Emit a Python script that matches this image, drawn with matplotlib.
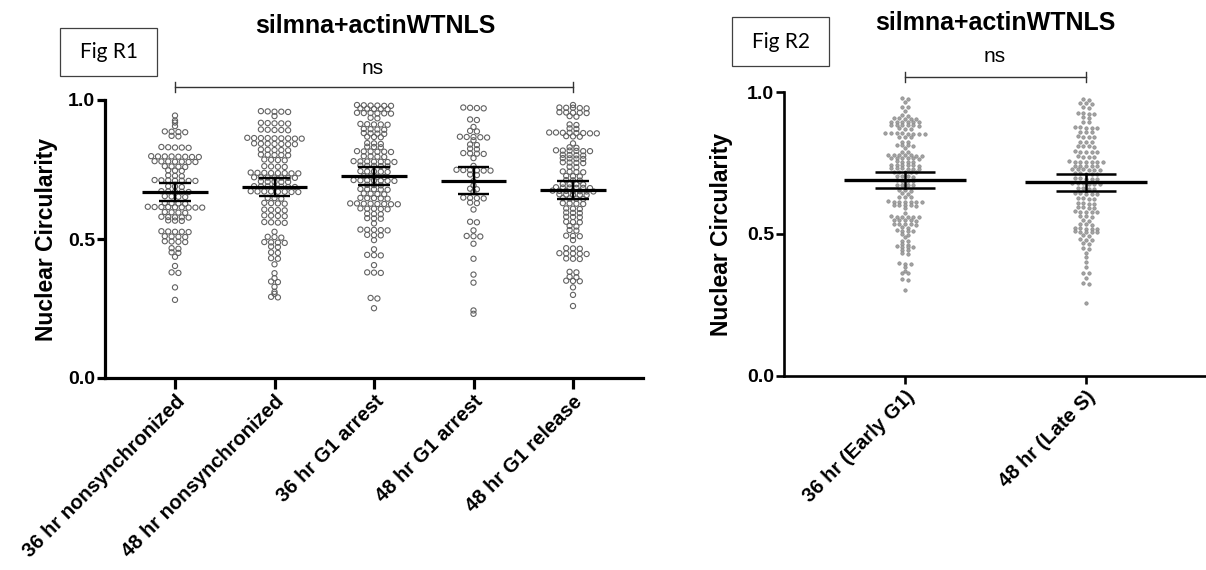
import numpy as np
import matplotlib
matplotlib.use('Agg')
import matplotlib.pyplot as plt
from matplotlib.patches import Rectangle

plt.rcParams['font.family'] = ['Liberation Sans', 'DejaVu Sans']

# ---- Fig R1 data (nuclear circularity per cell) ----
r1_labels = ['36 hr nonsynchronized', '48 hr nonsynchronized', '36 hr G1 arrest',
             '48 hr G1 arrest', '48 hr G1 release']

nonsync_36 = [
    0.944, 0.926, 0.919, 0.906, 0.887, 0.885, 0.886, 0.884, 0.871, 0.869,
    0.830, 0.828, 0.831, 0.829, 0.829,
    0.797, 0.795, 0.798, 0.796, 0.796, 0.797, 0.795, 0.797,
    0.779, 0.777, 0.780, 0.778, 0.778, 0.779, 0.777,
    0.761, 0.759, 0.762, 0.760, 0.746, 0.745, 0.747, 0.727, 0.729, 0.726,
    0.711, 0.709, 0.712, 0.710, 0.710, 0.711, 0.709,
    0.689, 0.687, 0.690, 0.671, 0.669, 0.672, 0.670, 0.670,
    0.653, 0.651, 0.654, 0.652, 0.629, 0.627, 0.630, 0.628,
    0.615, 0.613, 0.616, 0.614, 0.614, 0.615, 0.613, 0.615, 0.613,
    0.596, 0.594, 0.597, 0.595, 0.579, 0.577, 0.580, 0.578, 0.578,
    0.566, 0.565, 0.567, 0.527, 0.525, 0.528, 0.526, 0.526,
    0.509, 0.507, 0.510, 0.508, 0.491, 0.489, 0.492, 0.490,
    0.467, 0.465, 0.452, 0.450, 0.436, 0.403, 0.380, 0.378, 0.326, 0.281]

nonsync_48 = [
    0.958, 0.960, 0.957, 0.959, 0.958, 0.942,
    0.917, 0.915, 0.918, 0.916, 0.916, 0.893, 0.891, 0.894, 0.892, 0.892,
    0.863, 0.861, 0.864, 0.862, 0.862, 0.863, 0.861, 0.863, 0.862,
    0.843, 0.841, 0.844, 0.842, 0.842, 0.843, 0.841,
    0.821, 0.819, 0.822, 0.820, 0.820, 0.803, 0.801, 0.804, 0.802, 0.802,
    0.785, 0.783, 0.786, 0.784, 0.761, 0.759, 0.762, 0.760,
    0.738, 0.736, 0.739, 0.737, 0.737, 0.738, 0.736, 0.737,
    0.722, 0.720, 0.721, 0.721, 0.722, 0.720, 0.721,
    0.707, 0.705, 0.706, 0.706, 0.705,
    0.689, 0.687, 0.690, 0.688, 0.688, 0.689, 0.687,
    0.671, 0.669, 0.672, 0.670, 0.670, 0.671, 0.669, 0.671,
    0.647, 0.645, 0.648, 0.629, 0.627, 0.630, 0.628,
    0.605, 0.603, 0.606, 0.604, 0.584, 0.582, 0.585, 0.583,
    0.560, 0.558, 0.561, 0.559, 0.526, 0.507, 0.505, 0.508,
    0.488, 0.486, 0.489, 0.487, 0.473, 0.471, 0.452, 0.450, 0.431, 0.429,
    0.409, 0.377, 0.359, 0.347, 0.345, 0.328, 0.310, 0.303, 0.292, 0.290]

arrest_36 = [
    0.981, 0.979, 0.982, 0.980, 0.980, 0.979,
    0.969, 0.967, 0.970, 0.968, 0.968,
    0.953, 0.951, 0.954, 0.952, 0.952, 0.953, 0.936, 0.934,
    0.913, 0.911, 0.914, 0.912, 0.912, 0.895, 0.893, 0.896, 0.894,
    0.880, 0.878, 0.881, 0.879, 0.868, 0.866, 0.867,
    0.844, 0.842, 0.845, 0.832, 0.830, 0.831,
    0.815, 0.813, 0.816, 0.814, 0.814, 0.815,
    0.797, 0.795, 0.798, 0.796,
    0.779, 0.777, 0.780, 0.778, 0.778, 0.779, 0.777,
    0.763, 0.761, 0.764, 0.762, 0.763, 0.743, 0.741, 0.744, 0.742, 0.743,
    0.725, 0.723, 0.726, 0.724,
    0.711, 0.709, 0.712, 0.710, 0.711, 0.709, 0.710,
    0.695, 0.693, 0.694, 0.679, 0.677, 0.680, 0.678, 0.679,
    0.663, 0.661, 0.664, 0.662, 0.647, 0.645, 0.648, 0.646, 0.647,
    0.627, 0.625, 0.628, 0.626, 0.627, 0.625, 0.626, 0.628,
    0.609, 0.607, 0.610, 0.608, 0.609, 0.591, 0.589, 0.590,
    0.575, 0.573, 0.574, 0.556, 0.533, 0.531, 0.534, 0.532, 0.533,
    0.515, 0.513, 0.514, 0.496, 0.463, 0.443, 0.441, 0.442, 0.406,
    0.380, 0.378, 0.379, 0.288, 0.286, 0.251]

arrest_48 = [
    0.972, 0.970, 0.971, 0.973, 0.930, 0.928, 0.903, 0.889, 0.887,
    0.867, 0.865, 0.868, 0.866, 0.867, 0.855, 0.840, 0.838, 0.825, 0.823,
    0.808, 0.806, 0.807, 0.809, 0.791, 0.763,
    0.748, 0.746, 0.749, 0.747, 0.748, 0.746, 0.732, 0.730,
    0.708, 0.693, 0.681, 0.679, 0.670, 0.648, 0.646, 0.647, 0.649,
    0.631, 0.629, 0.606, 0.562, 0.560, 0.531, 0.511, 0.509, 0.510,
    0.483, 0.429, 0.372, 0.343, 0.243, 0.231]

release_48 = [
    0.982, 0.972, 0.970, 0.973, 0.971, 0.972,
    0.955, 0.953, 0.954, 0.956, 0.954, 0.942, 0.940,
    0.912, 0.910, 0.898, 0.896,
    0.882, 0.880, 0.883, 0.881, 0.882, 0.880, 0.881, 0.883,
    0.870, 0.868, 0.869, 0.844, 0.830, 0.828,
    0.818, 0.816, 0.819, 0.817, 0.818, 0.816,
    0.802, 0.800, 0.803, 0.801, 0.790, 0.788, 0.789, 0.791,
    0.775, 0.773, 0.776, 0.774, 0.760, 0.758,
    0.742, 0.740, 0.743, 0.741, 0.727, 0.725, 0.726, 0.712, 0.710, 0.711,
    0.698, 0.696, 0.697, 0.697,
    0.685, 0.683, 0.684, 0.686, 0.684, 0.685,
    0.673, 0.671, 0.672, 0.674, 0.672, 0.673, 0.671,
    0.660, 0.658, 0.659, 0.661, 0.659,
    0.646, 0.644, 0.647, 0.645, 0.628, 0.626, 0.629, 0.627,
    0.610, 0.608, 0.609, 0.595, 0.593, 0.594, 0.580, 0.578, 0.579,
    0.562, 0.560, 0.561, 0.547, 0.545, 0.532, 0.530, 0.512, 0.510, 0.511,
    0.496, 0.467, 0.465, 0.466, 0.448, 0.446, 0.449, 0.447, 0.448,
    0.430, 0.428, 0.429, 0.382, 0.380, 0.364, 0.362, 0.350, 0.348, 0.349,
    0.326, 0.299, 0.259]

r1_mean = [0.668, 0.686, 0.727, 0.710, 0.676]
r1_err = [0.033, 0.033, 0.033, 0.049, 0.033]

# ---- Fig R2 data ----
r2_labels = ['36 hr (Early G1)', '48 hr (Late S)']

early_g1_36 = [
    0.978, 0.976, 0.966, 0.948, 0.946, 0.934, 0.919, 0.917,
    0.907, 0.905, 0.906, 0.908, 0.906,
    0.895, 0.893, 0.894, 0.896, 0.894, 0.895,
    0.884, 0.882, 0.883, 0.885, 0.883, 0.884, 0.872, 0.870, 0.871,
    0.854, 0.852, 0.853, 0.855, 0.853, 0.854, 0.852, 0.855,
    0.843, 0.841, 0.842, 0.825, 0.823, 0.813, 0.811, 0.812, 0.814,
    0.802, 0.790, 0.788,
    0.778, 0.776, 0.777, 0.779, 0.777, 0.778, 0.776,
    0.767, 0.765, 0.766, 0.768, 0.766, 0.767,
    0.755, 0.753, 0.754, 0.756,
    0.743, 0.741, 0.742, 0.744, 0.742, 0.743,
    0.731, 0.729, 0.730, 0.732, 0.730, 0.731,
    0.719, 0.717, 0.718, 0.720, 0.718,
    0.704, 0.702, 0.703, 0.705, 0.688, 0.686, 0.687, 0.689,
    0.673, 0.671, 0.672, 0.674, 0.655, 0.653, 0.654, 0.643, 0.641,
    0.631, 0.629, 0.630,
    0.614, 0.612, 0.613, 0.615, 0.613, 0.614, 0.612,
    0.602, 0.600, 0.601, 0.603, 0.601, 0.590, 0.575,
    0.561, 0.559, 0.560, 0.562, 0.560, 0.561,
    0.549, 0.547, 0.548, 0.550, 0.548,
    0.535, 0.533, 0.534, 0.536, 0.534, 0.524, 0.522,
    0.512, 0.510, 0.511, 0.513, 0.500, 0.498, 0.490,
    0.476, 0.474, 0.465, 0.463, 0.455, 0.453, 0.454, 0.456,
    0.444, 0.442, 0.432, 0.430, 0.397, 0.395, 0.396, 0.385,
    0.371, 0.364, 0.362, 0.340, 0.338, 0.303]

late_s_48 = [
    0.974, 0.972, 0.960, 0.958, 0.961, 0.946, 0.944,
    0.925, 0.923, 0.924, 0.926, 0.911, 0.909, 0.895, 0.893,
    0.876, 0.874, 0.875, 0.877, 0.875, 0.860, 0.858, 0.859,
    0.843, 0.841, 0.842, 0.844, 0.825, 0.823, 0.824,
    0.810, 0.808, 0.809, 0.811, 0.790, 0.788, 0.789, 0.791, 0.789,
    0.772, 0.770, 0.771, 0.773,
    0.755, 0.753, 0.754, 0.756, 0.754, 0.755, 0.753,
    0.740, 0.738, 0.739, 0.741, 0.739,
    0.728, 0.726, 0.727, 0.729, 0.727, 0.728,
    0.714, 0.712, 0.713, 0.715, 0.713,
    0.696, 0.694, 0.695, 0.697, 0.695,
    0.678, 0.676, 0.677, 0.679, 0.677, 0.678,
    0.661, 0.659, 0.660, 0.662,
    0.643, 0.641, 0.642, 0.644, 0.642,
    0.626, 0.624, 0.625, 0.627, 0.608, 0.606, 0.607, 0.609,
    0.594, 0.592, 0.593, 0.595, 0.579, 0.577, 0.578, 0.580, 0.578,
    0.563, 0.561, 0.562, 0.549, 0.547, 0.535, 0.533, 0.534,
    0.520, 0.518, 0.519, 0.521, 0.519,
    0.508, 0.506, 0.507, 0.509, 0.507, 0.496, 0.494,
    0.481, 0.479, 0.480, 0.467, 0.465, 0.450, 0.448,
    0.432, 0.418, 0.402, 0.385, 0.364, 0.362, 0.344, 0.326, 0.324, 0.258]

r2_mean = [0.690, 0.682]
r2_err = [0.028, 0.030]


def swarm(vals, w, tol):
    # group near-equal values into rows and spread each row sideways
    vals = np.asarray(vals)
    order = np.argsort(vals)[::-1]
    sv = vals[order]
    rows, cur = [], [0]
    for i in range(1, len(sv)):
        if sv[i - 1] - sv[i] > tol:
            rows.append(cur)
            cur = [i]
        else:
            cur.append(i)
    rows.append(cur)
    off = np.zeros(len(sv))
    for r in rows:
        n = len(r)
        off[r] = (np.arange(n) - (n - 1) / 2.0) * w
    out = np.empty(len(vals))
    out[order] = off
    return out


def style_axis(ax, lw, xtick_len, labels):
    for s in ['top', 'right']:
        ax.spines[s].set_visible(False)
    ax.spines['left'].set_linewidth(lw)
    ax.spines['bottom'].set_linewidth(lw)
    ax.set_ylim(0, 1)
    ax.set_yticks([0, 0.5, 1.0])
    ax.set_yticklabels(['0.0', '0.5', '1.0'], fontsize=14, fontweight='bold')
    ax.tick_params(axis='y', length=6, width=lw, pad=1)
    ax.tick_params(axis='x', length=xtick_len, width=lw, pad=2)
    ax.set_xticks(range(len(labels)))
    ax.set_xticklabels(labels, rotation=45, ha='right', rotation_mode='anchor',
                       fontsize=14.5, fontweight='bold')
    ax.set_ylabel('Nuclear Circularity', fontsize=16.5, fontweight='bold')


def mean_bars(ax, means, errs, half, cap, lw):
    for i, (m, e) in enumerate(zip(means, errs)):
        ax.plot([i - half, i + half], [m, m], color='black', lw=lw + 0.6, zorder=4,
                solid_capstyle='butt')
        ax.plot([i, i], [m - e, m + e], color='black', lw=lw, zorder=4)
        for y in (m - e, m + e):
            ax.plot([i - cap, i + cap], [y, y], color='black', lw=lw, zorder=4,
                    solid_capstyle='butt')


def bracket(ax, x0, x1, y, h):
    kw = dict(color='#333333', lw=1.0, clip_on=False)
    ax.plot([x0, x1], [y, y], **kw)
    ax.plot([x0, x0], [y - h, y + h], **kw)
    ax.plot([x1, x1], [y - h, y + h], **kw)


W, H = 1206, 570
fig = plt.figure(figsize=(W / 100, H / 100), dpi=100)

# ---- left panel ----
ax1 = fig.add_axes([105 / W, (H - 378) / H, (643 - 105) / W, 278 / H])
groups1 = [nonsync_36, nonsync_48, arrest_36, arrest_48, release_48]
for i, g in enumerate(groups1):
    off = swarm(g, 6.8 / 99.5, 0.006)
    ax1.scatter(i + off, g, s=14, facecolors='none', edgecolors='#626262',
                linewidths=0.8, zorder=2, clip_on=False)
mean_bars(ax1, r1_mean, r1_err, 0.33, 0.16, 1.7)
ax1.set_xlim((105 - 175) / 99.5, (643 - 175) / 99.5)
style_axis(ax1, 2.3, 8, r1_labels)
ax1.yaxis.set_label_coords(-0.088, 0.5)
bracket(ax1, 0, 4, 1.047, 0.019)

# ---- right panel ----
ax2 = fig.add_axes([784 / W, (H - 376) / H, (1205 - 784) / W, 284 / H])
groups2 = [early_g1_36, late_s_48]
for i, g in enumerate(groups2):
    off = swarm(g, 5.6 / 181, 0.005)
    ax2.scatter(i + off, g, s=6, facecolors='#a3a3a3', edgecolors='#8a8a8a',
                linewidths=0.5, zorder=2, clip_on=False)
mean_bars(ax2, r2_mean, r2_err, 0.337, 0.167, 1.8)
ax2.set_xlim((784 - 905) / 181, (1205 - 905) / 181)
style_axis(ax2, 1.9, 6, r2_labels)
ax2.yaxis.set_label_coords(-0.12, 0.5)
bracket(ax2, 0, 1, 1.053, 0.019)

# ---- titles, ns, figure tags ----
fig.text(375 / W, 1 - 26 / H, 'silmna+actinWTNLS', ha='center', va='center',
         fontsize=18, fontweight='bold')
fig.text(995 / W, 1 - 23 / H, 'silmna+actinWTNLS', ha='center', va='center',
         fontsize=18, fontweight='bold')
fig.text(373 / W, 1 - 68 / H, 'ns', ha='center', va='center', fontsize=15)
fig.text(995 / W, 1 - 57 / H, 'ns', ha='center', va='center', fontsize=15)

for (x0, y0, x1, y1, txt) in [(60, 28, 157, 76, 'Fig R1'), (732, 17, 829, 66, 'Fig R2')]:
    fig.patches.append(Rectangle((x0 / W, 1 - y1 / H), (x1 - x0) / W, (y1 - y0) / H,
                                 transform=fig.transFigure, fill=False,
                                 edgecolor='#404040', lw=0.9))
    fig.text((x0 + x1) / 2 / W, 1 - (y0 + y1) / 2 / H, txt, ha='center', va='center',
             fontsize=15, family=['Lato', 'DejaVu Sans'])

fig.savefig('out.png', dpi=100)
